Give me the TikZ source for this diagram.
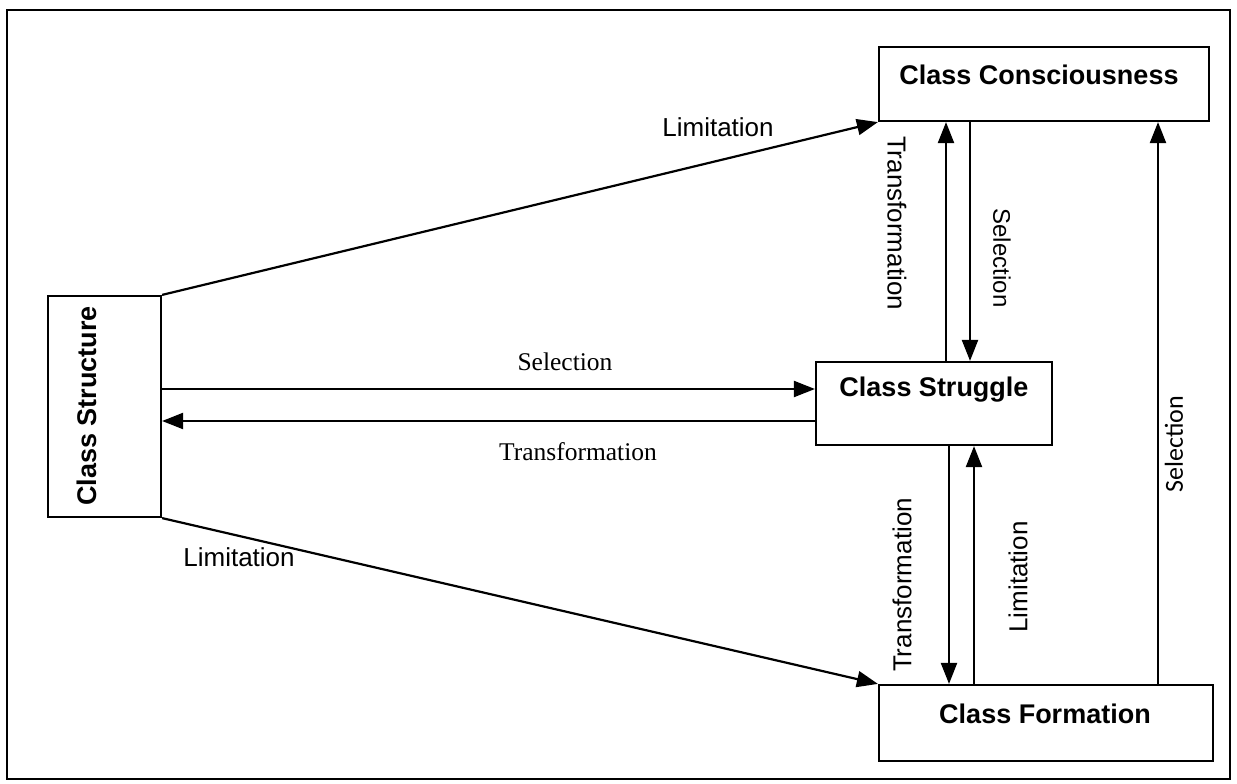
\documentclass[tikz,border=0pt]{standalone}
\usepackage{fontspec}
\setmainfont{Liberation Serif}
\setsansfont{Liberation Sans}
\newfontfamily\calfont{Carlito}
\usetikzlibrary{arrows.meta,calc}
\tikzset{
  box/.style={draw, line width=2.2pt, rectangle, inner sep=0pt},
  boxtext/.style={font=\sffamily\bfseries\fontsize{27}{30}\selectfont, inner sep=0pt},
  sanslab/.style={font=\sffamily\fontsize{26}{30}\selectfont, inner sep=0pt},
  seriflab/.style={font=\rmfamily\fontsize{25.5}{30}\selectfont, inner sep=0pt},
  conn/.style={line width=2.2pt, -{Triangle[length=21pt,width=16pt]}}
}
\begin{document}
\begin{tikzpicture}[x=1pt,y=-1pt]
\useasboundingbox (0,0) rectangle (1237,784);
\draw[line width=2.2pt] (7,10) rectangle (1230,779);

% boxes
\node[box, minimum width=330pt, minimum height=74pt] (cc) at (1044,84) {};
\node[boxtext] (cct) at (1039,75) {Class Consciousness};
\node[box, minimum width=113pt, minimum height=221pt] (cs) at (104.5,406.5) {};
\node[boxtext, rotate=90] (cst) at (87,406) {Class Structure};
\node[box, minimum width=236pt, minimum height=83pt] (cg) at (934,403.5) {};
\node[boxtext] (cgt) at (934,390) {Class Struggle};
\node[box, minimum width=334pt, minimum height=76pt] (cf) at (1046,723) {};
\node[boxtext] (cft) at (1045,714) {Class Formation};

% Structure -> Consciousness / Formation
\draw[conn] (cs.north east) -- (cc.south west);
\draw[conn] (cs.south east) -- (cf.north west);
\node[sanslab] (l1) at (718,127) {Limitation};
\node[sanslab] (l2) at (239,557) {Limitation};

% Structure <-> Struggle
\draw[conn] (cs.east |- 0,389) -- (cg.west |- 0,389);
\draw[conn] (cg.west |- 0,421) -- (cs.east |- 0,421);
\node[seriflab] (s1) at (565,362) {Selection};
\node[seriflab] (t1) at (578,452) {Transformation};

% Struggle <-> Consciousness
\draw[conn] (cg.north -| 946,0) -- (cc.south -| 946,0);
\draw[conn] (cc.south -| 970,0) -- (cg.north -| 970,0);
\node[sanslab, rotate=-90] (t2) at (897,223) {Transformation};
\node[font=\sffamily\fontsize{24}{28}\selectfont, inner sep=0pt, rotate=-90] (s2) at (1002,258) {Selection};

% Struggle <-> Formation
\draw[conn] (cg.south -| 949,0) -- (cf.north -| 949,0);
\draw[conn] (cf.north -| 974,0) -- (cg.south -| 974,0);
\node[sanslab, rotate=90] (t3) at (902,585) {Transformation};
\node[sanslab, rotate=90] (l3) at (1018,577) {Limitation};

% Formation -> Consciousness
\draw[conn] (cf.north -| 1158,0) -- (cc.south -| 1158,0);
\node[font=\calfont\fontsize{26}{30}\selectfont, inner sep=0pt, rotate=90] (s3) at (1174,444) {Selection};
\end{tikzpicture}
\end{document}
